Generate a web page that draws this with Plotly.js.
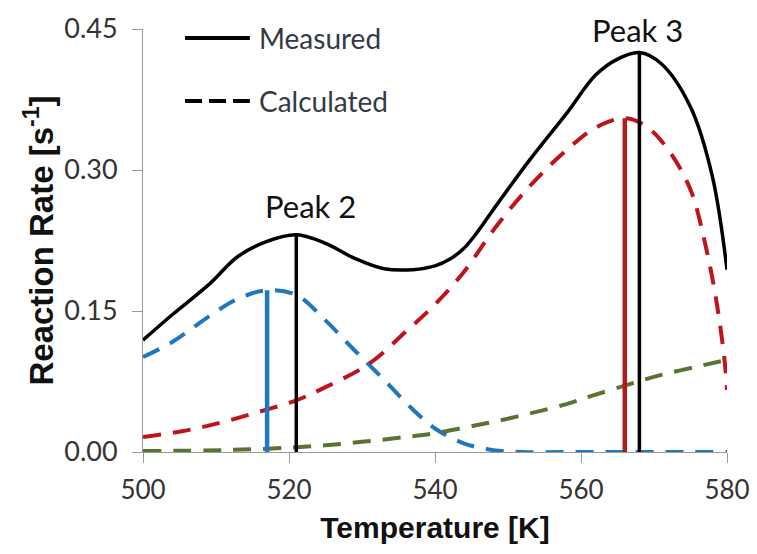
<!DOCTYPE html>
<html>
<head>
<meta charset="utf-8">
<script src="https://cdn.plot.ly/plotly-3.0.1.min.js"></script>
<style>html,body{margin:0;padding:0;background:#fff;}#chart{width:757px;height:554px;}</style>
</head>
<body>
<div id="chart"></div>
<script>
// Measured (black solid)
const measuredT = [500,504,509,513,517,521,525,529,533,537,540,542,544,546,548,553,558,562,565,568,571,575,578,580];
const measuredRate = [0.119,0.146,0.178,0.208,0.224,0.231,0.222,0.206,0.195,0.194,0.198,0.205,0.217,0.236,0.258,0.311,0.360,0.401,0.418,0.425,0.413,0.367,0.293,0.194];
// Calculated peak 2 (blue dashed)
const peak2T = [500,504,509,513,517,521,525,529,533,537,540,544,548,552,560,570,580];
const peak2Rate = [0.101,0.117,0.144,0.163,0.172,0.167,0.140,0.108,0.077,0.045,0.025,0.009,0.002,0,0,0,0];
// Calculated peak 3 (red dashed)
const peak3T = [500,506,511,516,521,525,531,536,540,544,548,553,558,562,566,569,572,575,577,578.6,579.7,580];
const peak3Rate = [0.016,0.023,0.032,0.043,0.055,0.069,0.094,0.128,0.157,0.192,0.236,0.283,0.321,0.345,0.355,0.346,0.321,0.279,0.222,0.158,0.095,0.066];
// Calculated background (green dashed)
const bgT = [500,511,521,529,536,540,544,548,553,558,562,567,571,576,580];
const bgRate = [0.001,0.002,0.005,0.010,0.016,0.020,0.026,0.032,0.041,0.051,0.061,0.073,0.082,0.091,0.098];
// Peak marker lines
const markerT = [517, 521, 566, 568];
const markerRate = [0.172, 0.231, 0.355, 0.425];
const markerColors = ['#1f77bc', '#000000', '#b01c1c', '#000000'];
// Labels
const peakLabels = ['Peak 2', 'Peak 3'];
const peakLabelT = [522.9, 567.8];
const peakLabelRate = [0.262, 0.449];
const legendNames = ['Measured', 'Calculated'];

const DASH = '18px,12px';
const traces = [
  {x: peak2T, y: peak2Rate, mode: 'lines', line: {color: '#1f77bc', width: 4, dash: DASH, shape: 'spline'}, showlegend: false},
  {x: peak3T, y: peak3Rate, mode: 'lines', line: {color: '#c0141c', width: 4, dash: DASH, shape: 'spline'}, showlegend: false},
  {x: bgT, y: bgRate, mode: 'lines', line: {color: '#5b7231', width: 4, dash: DASH, shape: 'spline'}, showlegend: false},
  {x: measuredT, y: measuredRate, mode: 'lines', line: {color: '#000000', width: 3.5, shape: 'spline'}, showlegend: false}
];
markerT.forEach((t, i) => {
  traces.push({x: [t, t], y: [0, markerRate[i]], mode: 'lines',
    line: {color: markerColors[i], width: markerColors[i] === '#000000' ? 3.5 : 4.5}, showlegend: false});
});

const annotations = peakLabels.map((s, i) => ({
  x: peakLabelT[i], y: peakLabelRate[i], xref: 'x', yref: 'y', text: s, showarrow: false,
  font: {family: 'Lato, sans-serif', size: 31, color: '#111'}, xanchor: 'center', yanchor: 'middle'
}));
const legY = [0.9787, 0.8298];
legendNames.forEach((s, i) => {
  annotations.push({x: 0.195, y: legY[i], xref: 'paper', yref: 'paper', text: s, showarrow: false,
    xanchor: 'left', yanchor: 'middle', font: {family: 'Lato, sans-serif', size: 28, color: '#333a44'}});
});

const shapes = [
  {type: 'line', xref: 'paper', yref: 'paper', x0: 0.072, x1: 0.183, y0: legY[0], y1: legY[0], line: {color: '#000', width: 4}},
  {type: 'line', xref: 'paper', yref: 'paper', x0: 0.072, x1: 0.183, y0: legY[1], y1: legY[1], line: {color: '#000', width: 4, dash: '17px,7px'}}
];

const layout = {
  width: 757, height: 554,
  margin: {l: 143, r: 30, t: 29, b: 102},
  paper_bgcolor: '#fff', plot_bgcolor: '#fff',
  showlegend: false,
  font: {family: 'Lato, sans-serif', color: '#333'},
  xaxis: {
    range: [500, 580], tickvals: [500, 520, 540, 560, 580], ticktext: ['500','520','540','560','580'],
    showgrid: false, zeroline: false, showline: true, linecolor: '#9a9a9a', linewidth: 1,
    ticks: 'outside', ticklen: 10, tickcolor: '#9a9a9a', tickfont: {size: 26, color: '#333'}, ticklabelstandoff: 5,
    title: {text: 'Temperature [K]', font: {size: 30, color: '#111', family: 'Liberation Sans, Arial, sans-serif', weight: 'bold'}, standoff: 12}
  },
  yaxis: {
    range: [0, 0.45], tickvals: [0, 0.15, 0.30, 0.45], ticktext: ['0.00','0.15','0.30','0.45'],
    showgrid: false, zeroline: false, showline: true, linecolor: '#9a9a9a', linewidth: 1,
    ticks: 'outside', ticklen: 10, tickcolor: '#9a9a9a', tickfont: {size: 27, color: '#333'}, ticklabelstandoff: 9,
    title: {text: 'Reaction Rate [s<sup>-1</sup>]', font: {size: 33, color: '#111', family: 'Liberation Sans, Arial, sans-serif', weight: 'bold'}, standoff: 0}
  },
  annotations: annotations,
  shapes: shapes
};
Plotly.newPlot('chart', traces, layout, {displayModeBar: false, staticPlot: true});
</script>
</body>
</html>
